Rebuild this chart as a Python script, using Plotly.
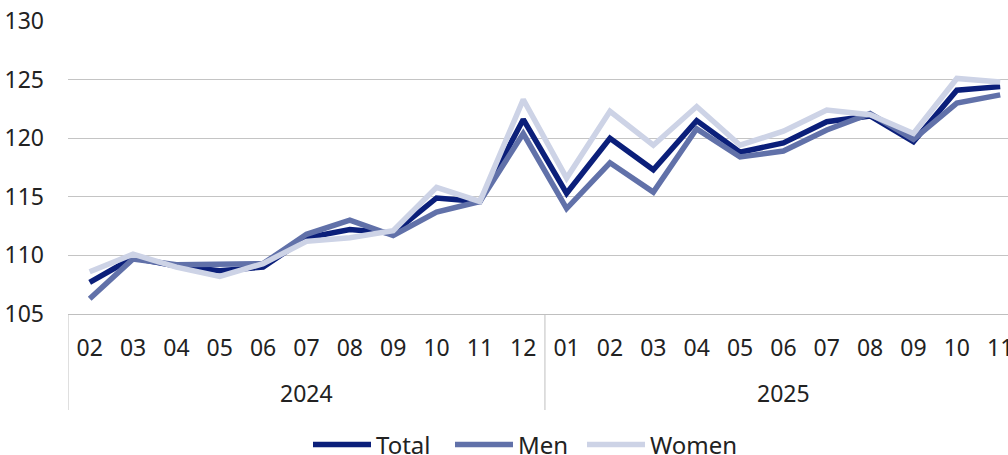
import plotly.graph_objects as go

years = ["2024"] * 11 + ["2025"] * 11
months = ["02", "03", "04", "05", "06", "07", "08", "09", "10", "11", "12",
          "01", "02", "03", "04", "05", "06", "07", "08", "09", "10", "11"]

total = [107.7, 109.8, 109.1, 108.7, 109.0, 111.5, 112.2, 111.9, 114.9, 114.6, 121.6,
         115.3, 120.0, 117.3, 121.5, 118.8, 119.6, 121.4, 121.9, 119.7, 124.1, 124.4]
men = [106.3, 109.7, 109.2, 109.3, 109.3, 111.8, 113.0, 111.7, 113.7, 114.6, 120.4,
       114.0, 117.9, 115.4, 120.8, 118.4, 118.9, 120.7, 122.1, 119.9, 123.0, 123.7]
women = [108.6, 110.1, 109.0, 108.2, 109.3, 111.2, 111.5, 112.1, 115.8, 114.6, 123.3,
         116.6, 122.3, 119.4, 122.7, 119.4, 120.6, 122.4, 122.0, 120.4, 125.1, 124.8]

series = [("Total", total, "#0b1f7a"), ("Men", men, "#6171a9"), ("Women", women, "#cdd3e6")]
legend_ids = ["legend", "legend2", "legend3"]
legend_left_px = [308, 450, 582]

# unique category keys (year-month) so repeated month labels stay distinct
cats = [f"{y}-{m}" for y, m in zip(years, months)]

fig = go.Figure()
for (name, vals, color), lg in zip(series, legend_ids):
    fig.add_trace(go.Scatter(
        x=cats, y=vals, mode="lines", name=name, legend=lg,
        line=dict(color=color, width=5.5),
    ))

# year group labels and dividers
year_list = []
for y in years:
    if y not in year_list:
        year_list.append(y)
plot_h = 455 - 21 - 141
for yr in year_list:
    idx = [i for i, y in enumerate(years) if y == yr]
    mid = (idx[0] + idx[-1]) / 2
    fig.add_annotation(x=mid, y=-(393 - 314) / plot_h, xref="x", yref="paper",
                       text=yr, showarrow=False, yanchor="middle",
                       font=dict(size=23, color="#222222"))
    fig.add_shape(type="line", xref="x", yref="paper",
                  x0=idx[0] - 0.5, x1=idx[0] - 0.5, y0=0, y1=-(410 - 314) / plot_h,
                  line=dict(color="#bfbfbf", width=1))

legend_style = dict(orientation="h", xref="container", xanchor="left",
                    yref="container", y=(455 - 445) / 455, yanchor="middle",
                    font=dict(size=24, color="#222222"), itemwidth=58,
                    bgcolor="rgba(0,0,0,0)")
legends = {lg: dict(legend_style, x=px / 1008) for lg, px in zip(legend_ids, legend_left_px)}

font = "Noto Sans"
fig.update_layout(
    width=1008, height=455,
    margin=dict(l=68, r=0, t=21, b=141),
    paper_bgcolor="white", plot_bgcolor="white",
    font=dict(family=font, size=23, color="#222222"),
    showlegend=True,
    **legends,
    xaxis=dict(
        type="category", categoryorder="array", categoryarray=cats,
        range=[-0.5, 21.18],
        tickvals=cats, ticktext=months,
        showgrid=False, showline=True, linecolor="#bfbfbf", linewidth=1,
        tickfont=dict(size=23), automargin=False, ticks="", ticklabelstandoff=13,
    ),
    yaxis=dict(
        range=[105, 130], tickvals=[105, 110, 115, 120, 125, 130],
        showgrid=True, gridcolor="#c4c4c4", gridwidth=1,
        zeroline=False, showline=False, ticks="",
        tickfont=dict(size=23), ticklabelstandoff=23, automargin=False,
    ),
)

fig.write_html("out.html", config={"displayModeBar": False},
               post_script="document.body.style.margin='0';document.body.style.overflow='hidden';")
